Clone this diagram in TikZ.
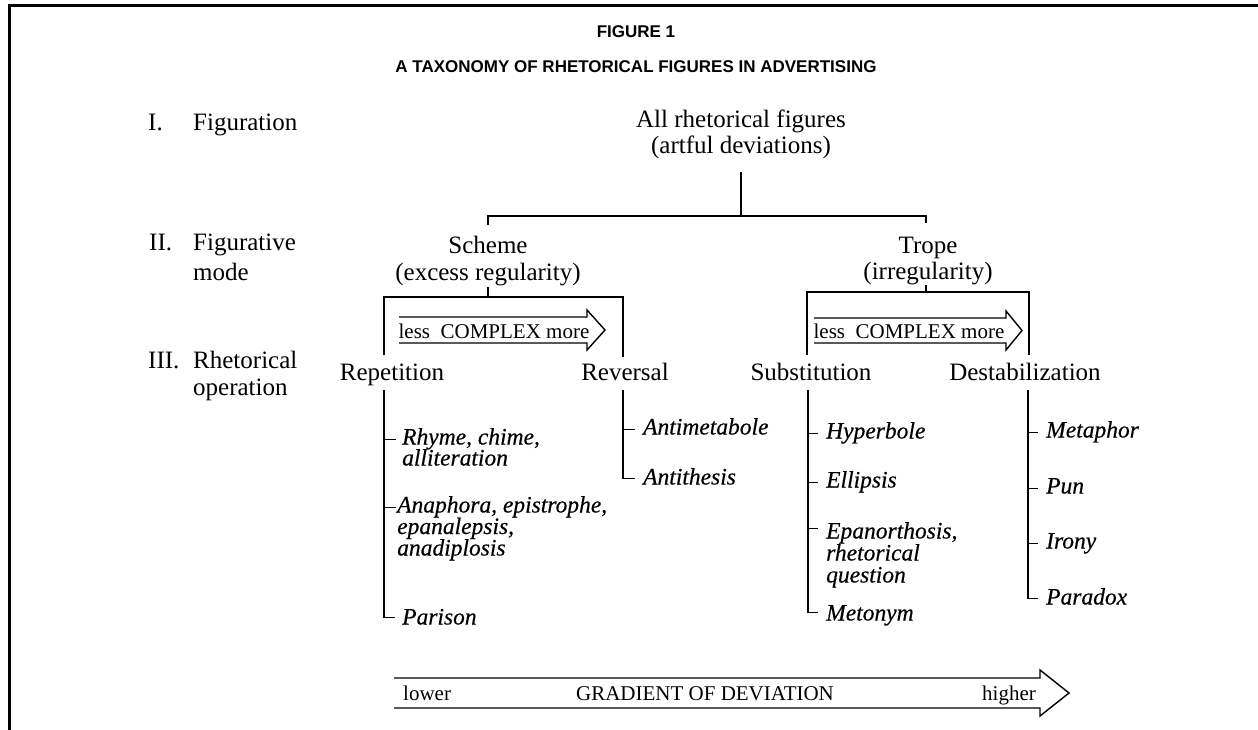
\documentclass[tikz,border=0pt]{standalone}
\usepackage{fontspec}
\setmainfont{Liberation Serif}
\newfontfamily\titlefont{Liberation Sans}
\newfontfamily\itemfont[FakeBold=0.4]{Liberation Serif}
\usetikzlibrary{calc}
\begin{document}
\begin{tikzpicture}[x=1pt,y=-1pt,
  txt/.style={font=\fontsize{25}{30}\selectfont, inner sep=0pt, anchor=base},
  txtl/.style={txt, anchor=base west},
  itm/.style={font=\itemfont\itshape\fontsize{23.5}{28}\selectfont, inner sep=0pt, anchor=base west, text height=15pt, text depth=4pt},
  smalltxt/.style={font=\fontsize{21}{25}\selectfont, inner sep=0pt, anchor=base},
  conn/.style={line width=1.4pt, line join=miter},
  frameline/.style={line width=3pt, line join=miter},
  ttl/.style={font=\titlefont\bfseries\fontsize{17}{20}\selectfont, inner sep=0pt, anchor=base}]
\useasboundingbox (0,0) rectangle (1258,730);
\fill[white] (0,0) rectangle (1258,730);
\draw[frameline] (9.5,730) -- (9.5,6) -- (1258,6);

% titles
\node[ttl] (fig) at (636,38) {FIGURE 1};
\node[ttl] (tax) at (636,73) {A TAXONOMY OF RHETORICAL FIGURES IN ADVERTISING};

% level labels
\node[txtl] (l1n) at (148,131) {I.};
\node[txtl] (l1) at (193,131) {Figuration};
\node[txtl] (l2n) at (149,251) {II.};
\node[txtl] (l2a) at (193,251) {Figurative};
\node[txtl] (l2b) at (193,280) {mode};
\node[txtl] (l3n) at (148,368) {III.};
\node[txtl] (l3a) at (193,368) {Rhetorical};
\node[txtl] (l3b) at (193,395) {operation};

% level I
\node[txt] (root) at (741,128) {All rhetorical figures};
\node[txt] (root2) at (741,154) {(artful deviations)};
\coordinate (rootstem) at (741,172);
\coordinate (rootjoin) at (741,216);
\coordinate (schdrop) at (488,225);
\coordinate (trpcorner) at (926,216);
\coordinate (trpdrop) at (926,223);
\draw[conn] (rootstem) -- (rootjoin);
\draw[conn] (schdrop) |- (trpcorner) -- (trpdrop);

% level II
\node[txt] (scheme) at (488,253) {Scheme};
\node[txt] (scheme2) at (488,280) {(excess regularity)};
\node[txt] (trope) at (928,253) {Trope};
\node[txt] (trope2) at (928,279) {(irregularity)};

\coordinate (schstem) at (488,287);
\coordinate (schjoin) at (488,297);
\coordinate (repbr) at (384,355);
\coordinate (revcorner) at (623,297);
\coordinate (revbr) at (623,357);
\draw[conn] (schstem) -- (schjoin);
\draw[conn] (repbr) |- (revcorner) -- (revbr);

\coordinate (trpstem) at (926,285);
\coordinate (trpjoin) at (926,292);
\coordinate (subbr) at (807,355);
\coordinate (descorner) at (1029,292);
\coordinate (desbr) at (1029,355);
\draw[conn] (trpstem) -- (trpjoin);
\draw[conn] (subbr) |- (descorner) -- (desbr);

% complexity arrows
\draw[conn] (399,317) -- (587,317) -- (587,310) -- (605,330) -- (587,350) -- (587,343) -- (399,343);
\node[smalltxt] (cx1) at (494,338) {less\ \ COMPLEX more};
\draw[conn] (814,318) -- (1006,318) -- (1006,311) -- (1022,330.5) -- (1006,350) -- (1006,343) -- (814,343);
\node[smalltxt] (cx2) at (909,338) {less\ \ COMPLEX more};

% level III
\node[txt] (rep) at (392,380) {Repetition};
\node[txt] (rev) at (625,380) {Reversal};
\node[txt] (sub) at (811,380) {Substitution};
\node[txt] (des) at (1025,380) {Destabilization};

% Repetition items
\node[itm] (rhyme) at (402,444.5) {Rhyme, chime,};
\node[itm] (rhymeb) at (402,465.5) {alliteration};
\node[itm] (anaph) at (397,512.5) {Anaphora, epistrophe,};
\node[itm] (anaphb) at (397,534) {epanalepsis,};
\node[itm] (anaphc) at (397,555.5) {anadiplosis};
\node[itm] (pari) at (402,624.5) {Parison};

% Reversal items
\node[itm] (antim) at (643,434.5) {Antimetabole};
\node[itm] (antit) at (643,484.5) {Antithesis};

% Substitution items
\node[itm] (hyp) at (826,438.5) {Hyperbole};
\node[itm] (ell) at (826,487.5) {Ellipsis};
\node[itm] (epa) at (826,538.5) {Epanorthosis,};
\node[itm] (epab) at (826,560.5) {rhetorical};
\node[itm] (epac) at (826,582.5) {question};
\node[itm] (met) at (826,620.5) {Metonym};

% Destabilization items
\node[itm] (metaph) at (1046,437.5) {Metaphor};
\node[itm] (pun) at (1046,493.5) {Pun};
\node[itm] (iro) at (1046,548.5) {Irony};
\node[itm] (para) at (1046,604.5) {Paradox};

% tree lines
\coordinate (repl) at (384,390);
\coordinate (revl) at (623,390);
\coordinate (subl) at (808,390);
\coordinate (desl) at (1028,390);

\path ($(rhyme.mid west)+(-6,-3)$) coordinate (rhymet);
\path ($(anaph.mid west)+(-1,-3)$) coordinate (anapht);
\path ($(pari.mid west)+(-7,-5)$) coordinate (parit);
\draw[conn] (repl) |- (parit);
\draw[conn] (rhymet -| repl) -- (rhymet);
\draw[conn] (anapht -| repl) -- (anapht);

\path ($(antim.mid west)+(-8,-3)$) coordinate (antimt);
\path ($(antit.mid west)+(-8,-4)$) coordinate (antitt);
\draw[conn] (revl) |- (antitt);
\draw[conn] (antimt -| revl) -- (antimt);

\path ($(hyp.mid west)+(-8,-3)$) coordinate (hypt);
\path ($(ell.mid west)+(-8,-3)$) coordinate (ellt);
\path ($(epa.mid west)+(-8,-8)$) coordinate (epat);
\path ($(met.mid west)+(-8,-6)$) coordinate (mett);
\draw[conn] (subl) |- (mett);
\draw[conn] (hypt -| subl) -- (hypt);
\draw[conn] (ellt -| subl) -- (ellt);
\draw[conn] (epat -| subl) -- (epat);

\path ($(metaph.mid west)+(-8,-3)$) coordinate (metapht);
\path ($(pun.mid west)+(-8,-3)$) coordinate (punt);
\path ($(iro.mid west)+(-8,-3)$) coordinate (irot);
\path ($(para.mid west)+(-8,-4)$) coordinate (parat);
\draw[conn] (desl) |- (parat);
\draw[conn] (metapht -| desl) -- (metapht);
\draw[conn] (punt -| desl) -- (punt);
\draw[conn] (irot -| desl) -- (irot);

% gradient arrow
\draw[conn] (394,678) -- (1040,678) -- (1040,670) -- (1069,693) -- (1040,716) -- (1040,708) -- (394,708);
\node[smalltxt, anchor=base west] (low) at (403,700) {lower};
\node[smalltxt] (grad) at (705,700) {GRADIENT OF DEVIATION};
\node[smalltxt, anchor=base east] (high) at (1036,700) {higher};
\end{tikzpicture}
\end{document}
